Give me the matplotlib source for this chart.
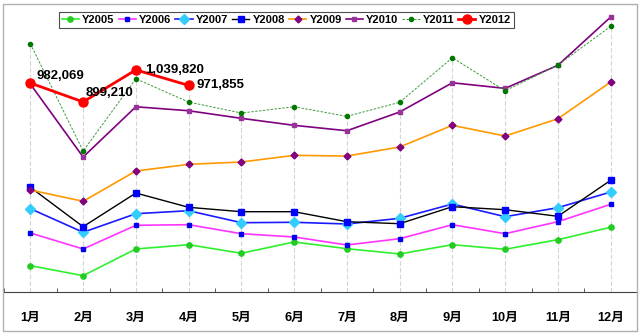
import numpy as np
import matplotlib
matplotlib.use("Agg")
import matplotlib.pyplot as plt
from matplotlib.patches import Rectangle

months = ["1月", "2月", "3月", "4月", "5月", "6月", "7月", "8月", "9月", "10月", "11月", "12月"]

y2005 = [179700, 135800, 253000, 271900, 234100, 283800, 254300, 231100, 271900, 251700, 293900, 348300]
y2006 = [323300, 253000, 357100, 359700, 320200, 305700, 270600, 298200, 359700, 320200, 372900, 449300]
y2007 = [430000, 326400, 408000, 421200, 368500, 370300, 362800, 387800, 450600, 394900, 434400, 503300]
y2008 = [524000, 350900, 498900, 436100, 416800, 416800, 372900, 364100, 438800, 425600, 396600, 554700]
y2009 = [512100, 462500, 595600, 625000, 635100, 664500, 661400, 701000, 796300, 749300, 825200, 986400]
y2010 = [977600, 657000, 877900, 860400, 827000, 796300, 772500, 854700, 983300, 958700, 1060000, 1271900]
y2011 = [1154600, 683400, 1000900, 898600, 850300, 877900, 835800, 897300, 1093100, 948200, 1061100, 1231000]
y2012 = [982069, 899210, 1039820, 971855]

series = [
    ("Y2005", y2005, dict(color="#2ef02e", marker="o", ms=3.8, mfc="#22cc22", mec="#22cc22", lw=1.2)),
    ("Y2006", y2006, dict(color="#ff33ff", marker="s", ms=3, mfc="#0000ee", mec="#0000ee", lw=1.2)),
    ("Y2007", y2007, dict(color="#1a1aff", marker="D", ms=5, mfc="#33ccff", mec="#33ccff", lw=1.2)),
    ("Y2008", y2008, dict(color="black", marker="s", ms=4.5, mfc="#0000ff", mec="#0000ff", lw=1.0)),
    ("Y2009", y2009, dict(color="#ff9900", marker="D", ms=3.5, mfc="#800080", mec="#800080", lw=1.2)),
    ("Y2010", y2010, dict(color="#800080", marker="s", ms=3, mfc="#993399", mec="#993399", lw=1.2)),
    ("Y2011", y2011, dict(color="#3c9a3c", marker="o", ms=3, mfc="#007700", mec="#007700", lw=0.7,
                          ls=(0, (2.5, 1.5)))),
    ("Y2012", y2012, dict(color="#ff0000", marker="o", ms=6.5, mfc="#ff0000", mec="#ff0000", lw=2.0)),
]

fig = plt.figure(figsize=(6.4, 3.33), dpi=100)
ax = fig.add_axes([4 / 640, 1 - 292 / 333, 633 / 640, 287 / 333])
ax.set_xlim(-0.5, 11.5)
ax.set_ylim(64000, 1325000)

x = np.arange(len(months))

# drop lines from the highest value of each month down to the axis
tops = np.max(np.array([y2005, y2006, y2007, y2008, y2009, y2010, y2011]), axis=0)
tops[:len(y2012)] = np.maximum(tops[:len(y2012)], y2012)
ax.vlines(x, 64000, tops, colors="#d4d4d4", linestyles=(0, (4, 2)), lw=0.8, zorder=1)

for name, vals, style in series:
    ax.plot(x[:len(vals)], vals, label=name, zorder=3, **style)

# value labels on the 2012 line
offsets = [(4.5, 5), (1.5, 6.5), (7, 0), (6, 0)]
for i, v in enumerate(y2012):
    ax.annotate(f"{v:,}", (x[i], v), xytext=offsets[i], textcoords="offset points",
                ha="left", va="center", fontsize=9.5, fontweight="bold",
                family=["Liberation Sans", "DejaVu Sans"], zorder=4)

for s in ["top", "left", "right"]:
    ax.spines[s].set_visible(False)
ax.spines["bottom"].set_color("#404040")
ax.set_yticks([])
ax.set_xticks(x)
ax.set_xticklabels(months, fontsize=9.2, fontweight="bold",
                   family=["Liberation Sans", "Noto Sans CJK SC"])
ax.tick_params(axis="x", length=0, pad=14)
ax.set_xticks(np.arange(-0.5, 12, 1), minor=True)
ax.tick_params(axis="x", which="minor", direction="in", length=3, color="#404040")

leg = fig.legend(loc="upper left", bbox_to_anchor=(59 / 640, 1 - 12 / 333), ncol=8,
                 prop=dict(family="Liberation Sans", weight="bold", size=8),
                 handlelength=1.55, handletextpad=0.3, columnspacing=0.35,
                 borderpad=0.25, borderaxespad=0, frameon=True, fancybox=False)
leg.get_frame().set_edgecolor("#202020")
leg.get_frame().set_linewidth(0.8)

fig.patches.append(Rectangle((2.5 / 640, 2.5 / 333), 634 / 640, 327 / 333, transform=fig.transFigure,
                             fill=False, edgecolor="#b0b0b0", lw=1.0))

fig.savefig("out.png", dpi=100)
